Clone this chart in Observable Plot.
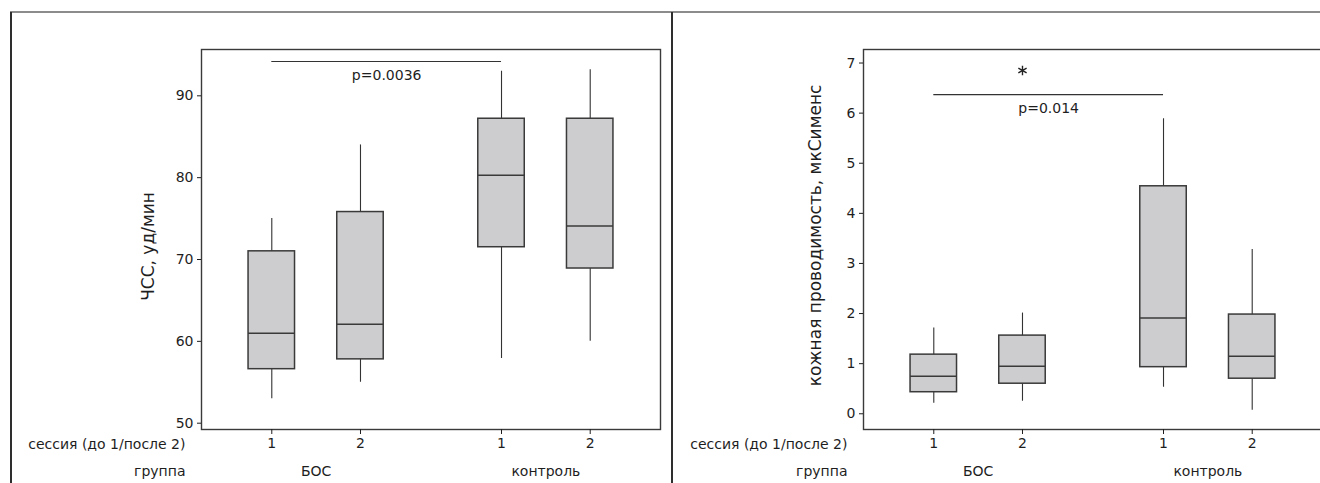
<!DOCTYPE html>
<html>
<head>
<meta charset="utf-8">
<script src="https://cdn.jsdelivr.net/npm/d3@7"></script>
<script src="https://cdn.jsdelivr.net/npm/@observablehq/plot@0.6"></script>
<style>
  body { margin: 0; background: #fff; }
  #page { position: relative; width: 1320px; height: 483px; overflow: hidden; font-family: "DejaVu Sans", sans-serif; }
  #page svg { position: absolute; top: 0; }
  .line { position: absolute; }
</style>
</head>
<body>
<div id="page"></div>
<script>
// Groups and sessions (before = 1, after = 2)
const groups = ["БОС", "контроль"];
const sessions = ["1", "2"];

// Heart rate, beats/min: whisker ends, quartiles and medians per box
const hrLow    = [53,   55,   57.9, 60];
const hrQ1     = [56.6, 57.8, 71.5, 68.9];
const hrMedian = [61,   62.1, 80.3, 74.1];
const hrQ3     = [71,   75.8, 87.2, 87.2];
const hrHigh   = [75,   84,   93,   93.2];
const hrTicks  = [50, 60, 70, 80, 90];

// Skin conductance, µS
const scLow    = [0.21, 0.25, 0.53, 0.07];
const scQ1     = [0.43, 0.60, 0.93, 0.70];
const scMedian = [0.75, 0.95, 1.91, 1.15];
const scQ3     = [1.18, 1.56, 4.54, 1.98];
const scHigh   = [1.71, 2.01, 5.89, 3.28];
const scTicks  = [0, 1, 2, 3, 4, 5, 6, 7];

// Significance annotations (box indices compared, bracket level, label)
const hrSig = {from: 0, to: 2, level: 94.2, label: "p=0.0036"};
const scSig = {from: 0, to: 2, level: 6.37, label: "p=0.014"};
const scStar = {box: 1, level: 6.85};

// Layout of boxes along x: sessions side by side, groups separated by a gap
const groupGap = 1.59;
const boxHalf = 0.262;
const edgePad = 0.7925;
const plotWidth = 459;

function boxesFrom(low, q1, med, q3, high) {
  const out = [];
  groups.forEach((g, gi) => sessions.forEach((s, si) => {
    const i = gi * sessions.length + si;
    out.push({group: g, session: s, pos: gi * (1 + groupGap) + si,
              low: low[i], q1: q1[i], median: med[i], q3: q3[i], high: high[i]});
  }));
  return out;
}

const ink = "#1e1e1e";

function panel({boxes, yDomain, yTicks, yLabel, yLabelDx, yLabelDy, yLabelSize, sig, star, left, width, marginLeft, marginRight}) {
  const positions = boxes.map(d => d.pos);
  const sessionAt = new Map(boxes.map(d => [d.pos, d.session]));
  const groupRows = groups.map(g => {
    const ps = boxes.filter(d => d.group === g).map(d => d.pos);
    return {group: g, pos: d3.mean(ps)};
  });
  const xMin = d3.min(positions) - edgePad, xMax = d3.max(positions) + edgePad;
  const marks = [
    Plot.frame({stroke: "#3a3a3a", strokeWidth: 1.4}),
    Plot.axisY({ticks: yTicks, tickSize: 4, tickPadding: 4, label: null, tickFormat: d => String(d), stroke: ink, fill: ink}),
    Plot.axisX(positions, {tickSize: 5, tickPadding: 4, label: null, tickFormat: d => sessionAt.get(d), stroke: ink, fill: ink}),
    Plot.text(groupRows, {x: "pos", text: "group", frameAnchor: "bottom", dy: 42, lineAnchor: "middle", fill: ink}),
    Plot.text(["сессия (до 1/после 2)"], {frameAnchor: "bottom-left", textAnchor: "end", dx: -16, dy: 15, lineAnchor: "middle", fill: ink}),
    Plot.text(["группа"], {frameAnchor: "bottom-left", textAnchor: "end", dx: -16, dy: 42, lineAnchor: "middle", fill: ink}),
    Plot.text([yLabel], {frameAnchor: "left", textAnchor: "middle", rotate: -90, dx: yLabelDx, dy: yLabelDy, lineAnchor: "middle", fontSize: yLabelSize, fill: ink}),
    // whiskers
    Plot.ruleX(boxes, {x: "pos", y1: "low", y2: "high", stroke: "#333", strokeWidth: 1.1}),
    // interquartile boxes
    Plot.rect(boxes, {x1: d => d.pos - boxHalf, x2: d => d.pos + boxHalf, y1: "q1", y2: "q3",
                      fill: "#cdcdcf", stroke: "#3a3a3a", strokeWidth: 1.5}),
    // medians
    Plot.ruleY(boxes, {x1: d => d.pos - boxHalf, x2: d => d.pos + boxHalf, y: "median", stroke: "#3a3a3a", strokeWidth: 1.5}),
    // significance bracket
    Plot.ruleY([sig], {x1: d => boxes[d.from].pos, x2: d => boxes[d.to].pos, y: "level", stroke: "#333", strokeWidth: 1.1}),
    Plot.text([sig], {x: d => (boxes[d.from].pos + boxes[d.to].pos) / 2, y: "level", text: "label", dy: 14, lineAnchor: "middle", fill: ink})
  ];
  if (star) {
    marks.push(Plot.dot([star], {x: d => boxes[d.box].pos, y: "level", symbol: "asterisk", r: 4.5, stroke: "#222", strokeWidth: 1.4}));
  }
  const svg = Plot.plot({
    width, height: 483,
    marginLeft, marginRight, marginTop: 49, marginBottom: 54,
    style: {fontFamily: "'DejaVu Sans', sans-serif", fontSize: "14px", background: "transparent", color: ink, overflow: "visible"},
    x: {domain: [xMin, xMax], range: [marginLeft, marginLeft + plotWidth], axis: null},
    y: {domain: yDomain, axis: null},
    marks
  });
  svg.style.left = left + "px";
  return svg;
}

const page = document.getElementById("page");

page.appendChild(panel({
  boxes: boxesFrom(hrLow, hrQ1, hrMedian, hrQ3, hrHigh),
  yDomain: [49.23, 95.66], yTicks: hrTicks,
  yLabel: "ЧСС, уд/мин", yLabelDx: -53, yLabelDy: 7, yLabelSize: 17,
  sig: hrSig, star: null,
  left: 0, width: 672, marginLeft: 201, marginRight: 672 - 201 - plotWidth
}));

// the right panel's plot area runs past the page edge
page.appendChild(panel({
  boxes: boxesFrom(scLow, scQ1, scMedian, scQ3, scHigh),
  yDomain: [-0.314, 7.27], yTicks: scTicks,
  yLabel: "кожная проводимость, мкСименс", yLabelDx: -48, yLabelDy: -4, yLabelSize: 17,
  sig: scSig, star: scStar,
  left: 672, width: 690, marginLeft: 191, marginRight: 0
}));

// outer panel borders
function line(x, y, w, h, color) {
  const d = document.createElement("div");
  d.className = "line";
  Object.assign(d.style, {left: x + "px", top: y + "px", width: w + "px", height: h + "px", background: color});
  page.appendChild(d);
}
line(10, 11, 1310, 1.5, "#8c8c8c");
line(10, 12, 1.5, 471, "#2e2e2e");
line(671, 12, 2, 471, "#2e2e2e");
</script>
</body>
</html>
